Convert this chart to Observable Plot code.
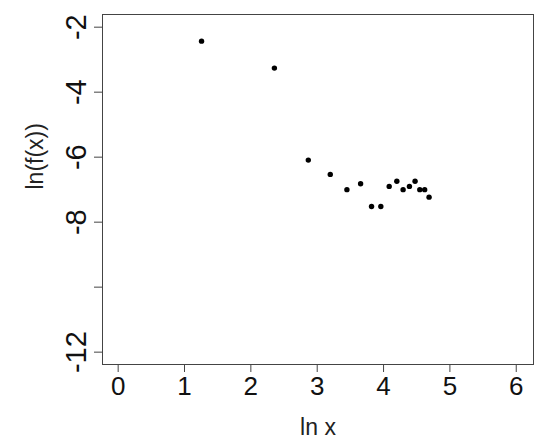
<!DOCTYPE html>
<html>
<head>
<meta charset="utf-8">
<script src="https://cdn.jsdelivr.net/npm/d3@7"></script>
<script src="https://cdn.jsdelivr.net/npm/@observablehq/plot@0.6"></script>
<style>
  html, body { margin: 0; padding: 0; background: #fff; }
</style>
</head>
<body>
<div id="chart"></div>
<script>
const lnX = [1.257, 2.355, 2.866, 3.197, 3.448, 3.654, 3.819, 3.959, 4.085, 4.200, 4.295, 4.390, 4.475, 4.546, 4.620, 4.686];
const lnF = [-2.43, -3.26, -6.09, -6.53, -7.00, -6.82, -7.52, -7.52, -6.90, -6.74, -7.00, -6.90, -6.74, -7.00, -7.00, -7.23];
const xTicks = [0, 1, 2, 3, 4, 5, 6];
const yTicks = [-2, -4, -6, -8, -10, -12];
const yTickLabels = ["-2", "-4", "-6", "-8", "", "-12"];
const xTitle = "ln x";
const yTitle = "ln(f(x))";

const points = lnX.map((x, i) => ({x, y: lnF[i]}));
const yLabelOf = new Map(yTicks.map((t, i) => [t, yTickLabels[i]]));

const chart = Plot.plot({
  width: 550,
  height: 445,
  marginLeft: 102,
  marginRight: 17,
  marginTop: 14,
  marginBottom: 81,
  x: {domain: [-0.236, 6.26]},
  y: {domain: [-12.38, -1.61]},
  style: {fontFamily: "'Liberation Sans', Arial, sans-serif", background: "#fff", color: "#111"},
  marks: [
    Plot.frame({stroke: "#444", strokeWidth: 1}),
    Plot.axisX(xTicks, {tickSize: 8, tickPadding: 4, fontSize: 26, label: null, stroke: "#444", fill: "#111"}),
    Plot.axisY(yTicks, {tickSize: 8, tickRotate: -90, tickPadding: 9, fontSize: 29, label: null,
      tickFormat: d => yLabelOf.get(d), stroke: "#444", fill: "#111"}),
    Plot.dot(points, {x: "x", y: "y", r: 2.7, fill: "#000", stroke: "none"}),
    Plot.text([xTitle], {frameAnchor: "bottom", dy: 70, fontSize: 23, fill: "#222"}),
    Plot.text([yTitle], {frameAnchor: "left", dx: -67, rotate: -90, fontSize: 23, fill: "#222"})
  ]
});
document.getElementById("chart").appendChild(chart);
</script>
</body>
</html>
